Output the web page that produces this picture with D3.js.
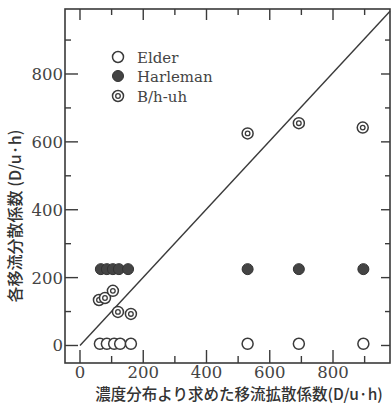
<!DOCTYPE html>
<html>
<head>
<meta charset="utf-8">
<script src="https://cdn.jsdelivr.net/npm/d3@7"></script>
<style>
  body { margin: 0; background: #fff; }
  svg { display: block; }
</style>
</head>
<body>
<div id="chart"></div>
<script>
// Elder (open circles)
var elderX = [63, 85, 108, 127, 161, 530, 692, 896];
var elderY = [5, 5, 5, 5, 5, 5, 5, 5];
// Harleman (filled circles)
var harleX = [66, 85, 104, 123, 152, 530, 692, 896];
var harleY = [225, 225, 225, 225, 225, 225, 225, 225];
// B/h-uh (double circles)
var bhX = [60, 79, 104, 120, 161, 530, 692, 894];
var bhY = [134, 140, 161, 99, 93, 625, 655, 642];

var tickValues = [0, 100, 200, 300, 400, 500, 600, 700, 800, 900];
var labelValues = [0, 200, 400, 600, 800];
var legendNames = ["Elder", "Harleman", "B/h-uh"];

var W = 391, H = 406;
var box = {left: 65, right: 390, top: 9, bottom: 363};
var ink = "#3a3a3a";

var x = d3.scaleLinear().domain([-47.4, 980.2]).range([box.left, box.right]);
var y = d3.scaleLinear().domain([-51.6, 991.5]).range([box.bottom, box.top]);

var svg = d3.select("#chart").append("svg")
    .attr("width", W)
    .attr("height", H);

// frame
svg.append("rect")
    .attr("x", box.left).attr("y", box.top)
    .attr("width", box.right - box.left).attr("height", box.bottom - box.top)
    .style("fill", "none").style("stroke", ink).style("stroke-width", 1.6);

function isMajor(v) { return v % 200 === 0; }

// bottom ticks (pointing up)
svg.selectAll(".tb").data(tickValues).enter().append("line")
    .attr("x1", function(d) { return x(d); }).attr("x2", function(d) { return x(d); })
    .attr("y1", box.bottom).attr("y2", function(d) { return box.bottom - (isMajor(d) ? 13 : 7); })
    .style("stroke", ink).style("stroke-width", 1.4);

// top ticks (pointing down)
svg.selectAll(".tt").data(tickValues).enter().append("line")
    .attr("x1", function(d) { return x(d); }).attr("x2", function(d) { return x(d); })
    .attr("y1", box.top).attr("y2", function(d) { return box.top + (isMajor(d) ? 11 : 6); })
    .style("stroke", ink).style("stroke-width", 1.4);

// left ticks (pointing right)
svg.selectAll(".tl").data(tickValues).enter().append("line")
    .attr("y1", function(d) { return y(d); }).attr("y2", function(d) { return y(d); })
    .attr("x1", box.left).attr("x2", function(d) { return box.left + (isMajor(d) ? 13 : 6); })
    .style("stroke", ink).style("stroke-width", 1.4);

// right ticks (pointing left)
svg.selectAll(".tr").data(tickValues).enter().append("line")
    .attr("y1", function(d) { return y(d); }).attr("y2", function(d) { return y(d); })
    .attr("x1", box.right).attr("x2", function(d) { return box.right - (isMajor(d) ? 9 : 5); })
    .style("stroke", ink).style("stroke-width", 1.4);

// tick labels
svg.selectAll(".lx").data(labelValues).enter().append("text")
    .attr("x", function(d) { return x(d); })
    .attr("y", 378)
    .attr("text-anchor", "middle")
    .style("font-family", "'DejaVu Serif', 'Liberation Serif', serif")
    .style("font-size", "16.5px")
    .style("fill", "#444")
    .text(function(d) { return d; });

svg.selectAll(".ly").data(labelValues).enter().append("text")
    .attr("x", 63)
    .attr("y", function(d) { return y(d) + 6; })
    .attr("text-anchor", "end")
    .style("font-family", "'DejaVu Serif', 'Liberation Serif', serif")
    .style("font-size", "16.5px")
    .style("fill", "#444")
    .text(function(d) { return d; });

// axis titles
svg.append("text")
    .attr("x", 239).attr("y", 400)
    .attr("text-anchor", "middle")
    .style("font-family", "'Noto Sans CJK JP', sans-serif")
    .style("font-size", "15.5px")
    .style("font-weight", "500")
    .style("fill", "#333")
    .text("濃度分布より求めた移流拡散係数(D/u·h)");

svg.append("text")
    .attr("transform", "translate(21,216) rotate(-90)")
    .attr("text-anchor", "middle")
    .style("font-family", "'Noto Sans CJK JP', sans-serif")
    .style("font-size", "16px")
    .style("font-weight", "500")
    .style("fill", "#333")
    .text("各移流分散係数 (D/u·h)");

// y = x line
svg.append("line")
    .attr("x1", x(0)).attr("y1", y(0))
    .attr("x2", x(980.2)).attr("y2", y(980.2 * 1.005))
    .style("stroke", ink).style("stroke-width", 1.4);

var r = 5.5;

function openCircle(g, cx, cy) {
    g.append("circle").attr("cx", cx).attr("cy", cy).attr("r", r)
        .style("fill", "#fff").style("stroke", ink).style("stroke-width", 1.5);
}
function filledCircle(g, cx, cy) {
    g.append("circle").attr("cx", cx).attr("cy", cy).attr("r", r)
        .style("fill", "#444").style("stroke", "#333").style("stroke-width", 1);
}
function doubleCircle(g, cx, cy) {
    g.append("circle").attr("cx", cx).attr("cy", cy).attr("r", r)
        .style("fill", "#fff").style("stroke", ink).style("stroke-width", 1.5);
    g.append("circle").attr("cx", cx).attr("cy", cy).attr("r", 2.3)
        .style("fill", "none").style("stroke", ink).style("stroke-width", 1.3);
}

var pts = svg.append("g");
harleX.forEach(function(v, i) { filledCircle(pts, x(v), y(harleY[i])); });
bhX.forEach(function(v, i) { doubleCircle(pts, x(v), y(bhY[i])); });
elderX.forEach(function(v, i) { openCircle(pts, x(v), y(elderY[i])); });

// legend
var legendY = [57, 76, 96];
var drawers = [openCircle, filledCircle, doubleCircle];
legendNames.forEach(function(name, i) {
    drawers[i](svg, 118, legendY[i]);
    svg.append("text")
        .attr("x", 137).attr("y", legendY[i] + 5.5)
        .style("font-family", "'DejaVu Serif', 'Liberation Serif', serif")
        .style("font-size", "15px")
        .style("fill", "#444")
        .text(name);
});
</script>
</body>
</html>
